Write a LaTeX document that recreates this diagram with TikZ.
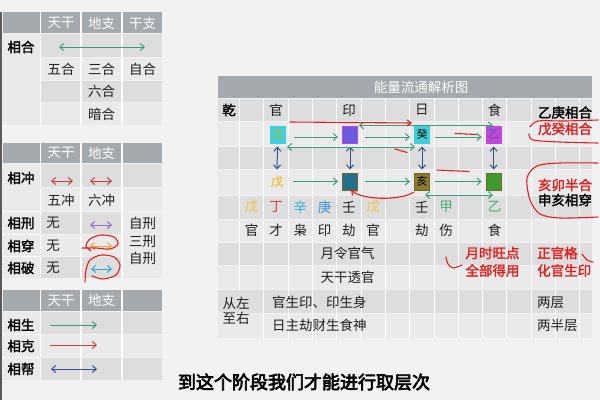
\documentclass[tikz,border=0pt]{standalone}
\usepackage{fontspec}
\newfontfamily\cjk{Noto Sans CJK SC}
\newfontfamily\cjkb[FakeBold=2]{Noto Sans CJK SC}
\newfontfamily\cjkbb[FakeBold=3.5]{Noto Sans CJK SC}
\usetikzlibrary{arrows.meta}
\definecolor{bgc}{HTML}{F2F2F2}
\definecolor{hdr}{HTML}{A3A9AC}
\definecolor{rowA}{HTML}{DDDDDD}
\definecolor{rowB}{HTML}{EAEAEA}
\definecolor{gcol}{HTML}{3A9E78}
\definecolor{rcol}{HTML}{C8403C}
\definecolor{bcol}{HTML}{34508C}
\definecolor{pcol}{HTML}{9868C8}
\definecolor{ocol}{HTML}{E8A830}
\definecolor{ccol}{HTML}{30A8D8}
\definecolor{pen}{HTML}{E02020}
\definecolor{cyanbox}{HTML}{40D0DC}
\definecolor{magbox}{HTML}{C048D8}
\definecolor{bluebox}{HTML}{6A5AE0}
\definecolor{olbox}{HTML}{6E6A22}
\definecolor{tealbox}{HTML}{23708A}
\definecolor{brbox}{HTML}{8A7A32}
\definecolor{grbox}{HTML}{3E9A2E}
\definecolor{ystem}{HTML}{F0C448}
\definecolor{rstem}{HTML}{D04848}
\definecolor{cstem}{HTML}{38B0E0}
\definecolor{bstem}{HTML}{3890D8}
\definecolor{gstem}{HTML}{40B070}
\definecolor{khaki}{HTML}{B8B030}
\begin{document}
\begin{tikzpicture}[x=1pt,y=-1pt,
  t/.style={font=\cjk\fontsize{13.5}{14}\selectfont, inner sep=0, text=black!88},
  tb/.style={font=\cjkb\fontsize{13.5}{14}\selectfont, inner sep=0, text=black},
  rb/.style={font=\cjkb\fontsize{13.5}{14}\selectfont, inner sep=0, text=pen},
  ht/.style={font=\cjk\fontsize{13.5}{14}\selectfont, inner sep=0, text=white},
  bx/.style={minimum width=15pt, minimum height=17pt, inner sep=0, line width=1pt, font=\cjk\fontsize{11}{11}\selectfont},
  arr/.style={line width=1pt, -{Straight Barb[length=4pt,width=7pt,line width=1pt]}},
  darr/.style={line width=1pt, {Straight Barb[length=4pt,width=7pt,line width=1pt]}-{Straight Barb[length=4pt,width=7pt,line width=1pt]}},
  penl/.style={draw=pen, line width=1.1pt, line cap=round, line join=round},
  sep/.style={white, line width=1.2pt},
  sub/.style={font=\cjkbb\fontsize{18}{18}\selectfont, inner sep=0}]
\useasboundingbox (0,0) rectangle (600,400);
\fill[bgc] (0,0) rectangle (600,400);
\fill[black!65] (0,12) rectangle (2,400);

% ===== Table 1 =====
\fill[hdr] (3,12) rectangle (162,33);
\fill[rowB] (3,34) rectangle (40,125);
\fill[rowA] (41,34) rectangle (162,57);
\fill[rowB] (41,58) rectangle (162,80);
\fill[rowA] (41,81) rectangle (162,102);
\fill[rowB] (41,103) rectangle (162,125);
\draw[sep] (40.5,12) -- (40.5,125) (81,12) -- (81,125) (122,12) -- (122,125);
\node[ht] (h1a) at (61,23) {天干};
\node[ht] (h1b) at (101.5,23) {地支};
\node[ht] (h1c) at (142.5,23) {干支};
\node[tb] (l1) at (21,47) {相合};
\coordinate (a1s) at (59,47); \coordinate (a1e) at (145,47);
\draw[darr, draw=gcol] (a1s) -- (a1e);
\node[t] (w1) at (61,69) {五合};
\node[t] (w2) at (101.5,69) {三合};
\node[t] (w3) at (142.5,69) {自合};
\node[t] (w4) at (101.5,91) {六合};
\node[t] (w5) at (101.5,114) {暗合};

% ===== Table 2 =====
\fill[hdr] (3,143) rectangle (162,163);
\fill[rowB] (3,164) rectangle (40,278);
\fill[rowA] (41,164) rectangle (162,187);
\fill[rowB] (41,188) rectangle (162,211);
\fill[rowA] (41,212) rectangle (121,234);
\fill[rowB] (41,235) rectangle (121,256);
\fill[rowA] (41,257) rectangle (121,278);
\fill[rowB] (123,212) rectangle (162,278);
\draw[sep] (40.5,143) -- (40.5,278) (81,143) -- (81,278) (122,143) -- (122,278);
\draw[sep] (3,211.5) -- (40,211.5) (3,234.5) -- (40,234.5) (3,256.5) -- (40,256.5);
\node[ht] (h2a) at (61,153) {天干};
\node[ht] (h2b) at (101.5,153) {地支};
\node[tb] (l2a) at (21,178) {相冲};
\node[tb] (l2b) at (21,223) {相刑};
\node[tb] (l2c) at (21,246) {相穿};
\node[tb] (l2d) at (21,268) {相破};
\coordinate (c1s) at (51,181); \coordinate (c1e) at (73,181);
\coordinate (c2s) at (90,181); \coordinate (c2e) at (112,181);
\draw[darr, draw=rcol] (c1s) -- (c1e);
\draw[darr, draw=rcol] (c2s) -- (c2e);
\node[t] (x1) at (61,200) {五冲};
\node[t] (x2) at (101.5,200) {六冲};
\node[t] (n1) at (53,223) {无};
\node[t] (n2) at (53,246) {无};
\node[t] (n3) at (53,268) {无};
\coordinate (p1s) at (90,225); \coordinate (p1e) at (112,225);
\draw[darr, draw=pcol] (p1s) -- (p1e);
\coordinate (o1s) at (90,246); \coordinate (o1e) at (112,246);
\draw[darr, draw=ocol] (o1s) -- (o1e);
\coordinate (k1s) at (91,269); \coordinate (k1e) at (112,269);
\draw[darr, draw=ccol] (k1s) -- (k1e);
\node[t] (z1) at (142.5,223) {自刑};
\node[t] (z2) at (142.5,241) {三刑};
\node[t] (z3) at (142.5,258) {自刑};
\draw[penl] plot[smooth] coordinates {(82,248) (96,248) (110,249) (118,244) (114,237) (101,235) (90,239) (86,246) (91,251)};
\draw[penl] plot[smooth] coordinates {(85,282) (86,270) (90,260) (101,255) (114,257) (120,265) (116,275) (103,279) (92,276)};

% ===== Table 3 =====
\fill[hdr] (3,290) rectangle (162,311);
\fill[rowB] (3,312) rectangle (40,380);
\fill[rowA] (41,312) rectangle (162,334);
\fill[rowB] (41,335) rectangle (162,357);
\fill[rowA] (41,358) rectangle (162,380);
\draw[sep] (40.5,290) -- (40.5,380) (81,290) -- (81,380) (122,290) -- (122,380);
\draw[sep] (3,334.5) -- (40,334.5) (3,357.5) -- (40,357.5);
\node[ht] (h3a) at (61,300.5) {天干};
\node[ht] (h3b) at (101.5,300.5) {地支};
\node[tb] (l3a) at (21,325) {相生};
\node[tb] (l3b) at (21,346) {相克};
\node[tb] (l3c) at (21,369) {相帮};
\coordinate (s1s) at (50,325); \coordinate (s1e) at (97,325);
\draw[arr, draw=gcol] (s1s) -- (s1e);
\coordinate (s2s) at (50,345); \coordinate (s2e) at (97,345);
\draw[arr, draw=rcol] (s2s) -- (s2e);
\coordinate (s3s) at (51,369); \coordinate (s3e) at (97,369);
\draw[darr, draw=bcol] (s3s) -- (s3e);

% ===== Right table =====
\fill[hdr] (218,76) rectangle (592,98);
\node[ht] (title) at (421,87) {能量流通解析图};
\fill[rowA] (218,99) rectangle (592,121);
\fill[rowB] (218,122) rectangle (592,146);
\fill[rowA] (218,147) rectangle (592,169);
\fill[rowB] (218,170) rectangle (592,195);
\fill[rowA] (218,196) rectangle (592,219);
\fill[rowB] (218,220) rectangle (592,242);
\fill[rowA] (218,243) rectangle (592,265);
\fill[rowB] (218,266) rectangle (592,289);
\fill[rowA] (218,290) rectangle (592,313);
\fill[rowB] (264,314) rectangle (592,338);
\fill[rowB] (218,314) rectangle (263,338);
\draw[sep, line width=0.9pt] (239.6,99) -- (239.6,289);
\foreach \gx in {263.9,288.2,312.5,336.8,361.1,385.4,409.7,434.0,458.3,482.6,506.9,531.2,555.5,579.8}
  \draw[sep, line width=0.9pt] (\gx,99) -- (\gx,338);

\node[tb] (qian) at (229,110) {乾};
\node[t] (g1) at (276,110) {官};
\node[t] (g2) at (349,110) {印};
\node[t] (g3) at (421.8,110) {日};
\node[t] (g4) at (494.7,110) {食};
\node[tb] (m1) at (565,112.5) {乙庚相合};
\node[rb] (m2) at (565,129) {戊癸相合};

% boxes
\node[bx, fill=cyanbox, draw=cyanbox, text=khaki] (t1) at (277.5,134.5) {戊};
\node[bx, fill=bluebox, draw=magbox] (t2) at (350,134.5) {};
\node[bx, fill=cyanbox, draw=cyanbox, text=black] (t3) at (422,134.5) {癸};
\node[bx, fill=magbox, draw=magbox, text=bluebox!80!black] (t4) at (493.7,134.5) {乙};
\node[bx, text=ystem, font=\cjkb\fontsize{12}{12}\selectfont] (u1) at (277,181.5) {戊};
\node[bx, fill=tealbox, draw=olbox] (u2) at (350,181.5) {};
\node[bx, fill=brbox, draw=olbox, text=black] (u3) at (422,181.5) {亥};
\node[bx, fill=grbox, draw=olbox] (u4) at (493.7,181.5) {};

% green flow arrows
\draw[arr, draw=gcol] ([xshift=8pt,yshift=-2.5pt]t1.east) -- ([xshift=-4pt,yshift=-2.5pt]t2.west);
\draw[arr, draw=gcol] ([xshift=7pt,yshift=-2.5pt]t2.east) -- ([xshift=-4pt,yshift=-2.5pt]t3.west);
\draw[arr, draw=gcol] ([xshift=5pt,yshift=-2.5pt]t3.east) -- ([xshift=-4pt,yshift=-2.5pt]t4.west);
\draw[arr, draw=gcol] ([xshift=8pt]u1.east) -- ([xshift=-4pt]u2.west);
\draw[arr, draw=gcol] ([xshift=7pt]u2.east) -- ([xshift=-4pt]u3.west);
\draw[arr, draw=gcol] ([xshift=5pt]u3.east) -- ([xshift=-4pt]u4.west);
% vertical
\draw[darr, draw=bcol] ([yshift=-3pt]t1.south) -- ([yshift=3pt]u1.north);
\draw[darr, draw=bcol] ([yshift=-3pt]t2.south) -- ([yshift=3pt]u2.north);
\draw[darr, draw=bcol] ([yshift=-3pt]t3.south) -- ([yshift=3pt]u3.north);
\draw[darr, draw=bcol] ([yshift=-3pt]t4.south) -- ([yshift=3pt]u4.north);
% long double arrows
\coordinate (L1a) at (359,125.5); \coordinate (L1b) at (493,125.5);
\draw[darr, draw=gcol] (L1a) -- (L1b);
\coordinate (L2a) at (287,147); \coordinate (L2b) at (415,147);
\draw[darr, draw=gcol] (L2a) -- (L2b);
\coordinate (L3a) at (425,195); \coordinate (L3b) at (493,195);
\draw[darr, draw=gcol] (L3a) -- (L3b);

% red pen marks on right table
\coordinate (R1a) at (290,122); \coordinate (R1b) at (412,123);
\draw[penl, -{Straight Barb[length=4pt,width=6pt]}] (R1a) -- (R1b);
\draw[penl] (455,133.5) -- (477,134.5);
\draw[penl] (395,149) -- (407,152.5);
\draw[penl] (437,170) -- (469,171.5);
\draw[penl, {Straight Barb[length=4pt,width=6pt]}-] (351,190) .. controls (362,200) and (400,201) .. (414,192);
\draw[penl] plot[smooth] coordinates {(598,120) (565,121) (538,121) (530,127)};
\draw[penl] plot[smooth] coordinates {(529,134) (533,140) (560,142) (598,143)};
\draw[penl] plot[smooth] coordinates {(598,163) (560,163) (537,166) (527,178) (530,200) (540,214) (560,218) (598,217)};
\draw[penl] plot[smooth] coordinates {(446,257) (448,264) (453,268) (462,265)};
\draw[penl] plot[smooth] coordinates {(582,254) (587,260) (593,262)};

\node[rb] (m3) at (565,185) {亥卯半合};
\node[tb] (m4) at (565,200) {申亥相穿};

% stems and gods
\node[t, text=ystem] (s0) at (251.7,207) {戊};
\node[t, text=rstem] (s1) at (276,207) {丁};
\node[t, text=cstem] (s2) at (300.3,207) {辛};
\node[t, text=bstem] (s3) at (324.6,207) {庚};
\node[t] (s4) at (348.9,207) {壬};
\node[t, text=ystem] (s5) at (373.2,207) {戊};
\node[t] (s7) at (421.8,207) {壬};
\node[t, text=gstem] (s8) at (446.1,207) {甲};
\node[t, text=gstem] (s10) at (494.7,207) {乙};
\node[t] (d0) at (251.7,230) {官};
\node[t] (d1) at (276,230) {才};
\node[t] (d2) at (300.3,230) {枭};
\node[t] (d3) at (324.6,230) {印};
\node[t] (d4) at (348.9,230) {劫};
\node[t] (d5) at (373.2,230) {官};
\node[t] (d7) at (421.8,230) {劫};
\node[t] (d8) at (446.1,230) {伤};
\node[t] (d10) at (494.7,230) {食};

\node[t] (e1) at (347.5,253) {月令官气};
\node[t] (e2) at (347.5,277) {天干透官};
\node[rb] (e3) at (492.5,253) {月时旺点};
\node[rb] (e4) at (492.5,270.5) {全部得用};
\node[rb, anchor=west] (e5) at (537,253) {正官格};
\node[rb, anchor=west] (e6) at (537,270.5) {化官生印};
\node[t, align=center, font=\cjk\fontsize{13.5}{15}\selectfont] (e7) at (236,310.5) {从左\\至右};
\node[t, anchor=west] (e8) at (272,302) {官生印、印生身};
\node[t, anchor=west] (e9) at (272,325) {日主劫财生食神};
\node[t, anchor=west] (e10) at (537,303) {两层};
\node[t, anchor=west] (e11) at (537,325) {两半层};

% subtitle
\node[sub, text=black] (subt) at (304,382) {到这个阶段我们才能进行取层次};
\end{tikzpicture}
\end{document}
